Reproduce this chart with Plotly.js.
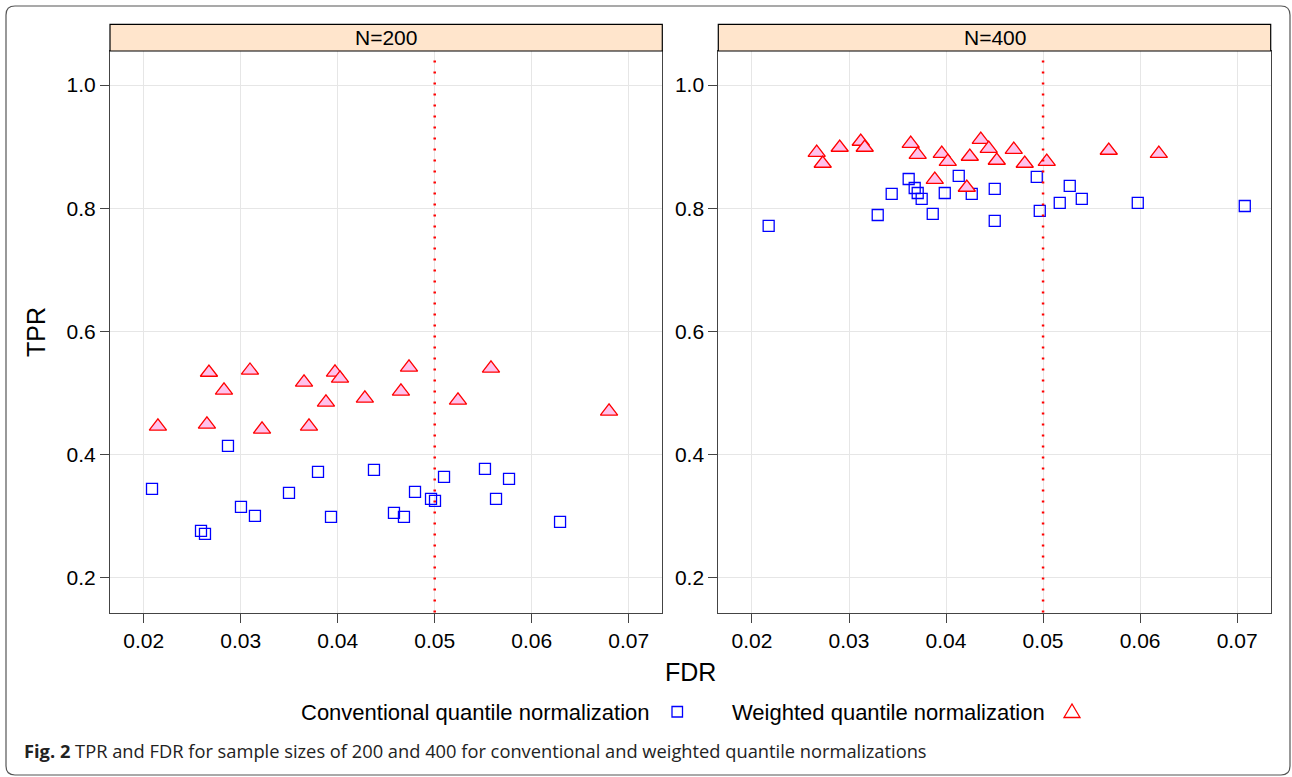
<!DOCTYPE html>
<html>
<head>
<meta charset="utf-8">
<script src="https://cdn.plot.ly/plotly-3.0.1.min.js"></script>
<style>html,body{margin:0;padding:0;background:#fff;}#chart{width:1292px;height:777px;}</style>
</head>
<body>
<div id="chart"></div>
<script>
// ---- Data ----
const panelTitles = ["N=200", "N=400"];
const seriesNames = ["Conventional quantile normalization", "Weighted quantile normalization"];
const xTicks = [0.02, 0.03, 0.04, 0.05, 0.06, 0.07];
const yTicks = [0.2, 0.4, 0.6, 0.8, 1.0];
const fdrThreshold = 0.05;

// N=200, conventional
const fdrConv200 = [0.02086, 0.02591, 0.02632, 0.02869, 0.03003, 0.03147, 0.03498, 0.03797, 0.03931, 0.04374,
                    0.04580, 0.04683, 0.04797, 0.04962, 0.05003, 0.05096, 0.05518, 0.05632, 0.05766, 0.06292];
const tprConv200 = [0.3447, 0.2766, 0.2717, 0.4144, 0.3155, 0.3009, 0.3382, 0.3723, 0.2993, 0.3755,
                    0.3058, 0.2993, 0.3398, 0.3285, 0.3252, 0.3642, 0.3771, 0.3285, 0.3609, 0.2912];
// N=200, weighted
const fdrWt200 = [0.02147, 0.02673, 0.02652, 0.02828, 0.03096, 0.03220, 0.03653, 0.03704, 0.03879, 0.03972,
                  0.04024, 0.04280, 0.04652, 0.04735, 0.05240, 0.05580, 0.06797];
const tprWt200 = [0.4460, 0.5335, 0.4492, 0.5044, 0.5368, 0.4411, 0.5174, 0.4460, 0.4849, 0.5336,
                  0.5239, 0.4914, 0.5028, 0.5417, 0.4882, 0.5401, 0.4703];
// N=400, conventional
const fdrConv400 = [0.02172, 0.03296, 0.03440, 0.03615, 0.03677, 0.03708, 0.03749, 0.03863, 0.03987, 0.04131,
                    0.04265, 0.04502, 0.04502, 0.04935, 0.04966, 0.05172, 0.05275, 0.05399, 0.05976, 0.07079];
const tprConv400 = [0.7713, 0.7891, 0.8232, 0.8475, 0.8329, 0.8248, 0.8151, 0.7908, 0.8248, 0.8524,
                    0.8232, 0.8313, 0.7794, 0.8508, 0.7956, 0.8086, 0.8362, 0.8151, 0.8086, 0.8037];
// N=400, weighted
const fdrWt400 = [0.02667, 0.02729, 0.02904, 0.03121, 0.03162, 0.03636, 0.03708, 0.03884, 0.03956, 0.04018,
                  0.04214, 0.04245, 0.04358, 0.04440, 0.04523, 0.04698, 0.04811, 0.05038, 0.05677, 0.06193];
const tprWt400 = [0.8904, 0.8726, 0.8986, 0.9083, 0.8986, 0.9050, 0.8872, 0.8466, 0.8888, 0.8758,
                  0.8337, 0.8840, 0.9115, 0.8969, 0.8775, 0.8953, 0.8726, 0.8758, 0.8937, 0.8888];

// ---- Styling ----
const W = 1292, H = 777;
const px = x => x / W;
const py = y => 1 - y / H;
const tickFont = {family: "Liberation Sans, Arial, sans-serif", size: 21, color: "#000"};
const blue = "#0000ff", red = "#ff0000", pink = "#ffc2ec";

const sqMarker = {symbol: "square-open", size: 11, color: blue, line: {color: blue, width: 1.3}};
const triMarker = {symbol: "triangle-up", size: 15, color: pink, opacity: 1, line: {color: red, width: 1.3}};

const traces = [
  {x: fdrConv200, y: tprConv200, xaxis: "x", yaxis: "y", mode: "markers", type: "scatter", name: seriesNames[0], marker: sqMarker},
  {x: fdrWt200, y: tprWt200, xaxis: "x", yaxis: "y", mode: "markers", type: "scatter", name: seriesNames[1], marker: triMarker},
  {x: fdrConv400, y: tprConv400, xaxis: "x2", yaxis: "y2", mode: "markers", type: "scatter", name: seriesNames[0], marker: sqMarker},
  {x: fdrWt400, y: tprWt400, xaxis: "x2", yaxis: "y2", mode: "markers", type: "scatter", name: seriesNames[1], marker: triMarker}
];

const xRange = [0.01653, 0.07346];
const yRange = [0.144, 1.0552];
const yDom = [py(612.5), py(51)];
const xDom1 = [px(110), px(662.3)];
const xDom2 = [px(718.3), px(1270.7)];

function xAxis(dom, anchor) {
  return {domain: dom, anchor: anchor, range: xRange, tickvals: xTicks, ticktext: xTicks.map(v => v.toFixed(2)),
          showgrid: true, gridcolor: "#e6e6e6", gridwidth: 1, zeroline: false,
          showline: true, mirror: true, linecolor: "#444", linewidth: 1,
          ticks: "outside", ticklen: 9, tickcolor: "#444", tickwidth: 1, tickfont: tickFont, fixedrange: true};
}
function yAxis(anchor) {
  return {domain: yDom, anchor: anchor, range: yRange, tickvals: yTicks, ticktext: yTicks.map(v => v.toFixed(1)),
          showgrid: true, gridcolor: "#e6e6e6", gridwidth: 1, zeroline: false,
          showline: true, mirror: true, linecolor: "#444", linewidth: 1,
          ticks: "outside", ticklen: 9, tickcolor: "#444", tickwidth: 1, tickfont: tickFont, fixedrange: true};
}

const shapes = [];
const annotations = [];

// outer rounded frame
const L = 6, T = 6, R = 1290, B = 775, rr = 9;
shapes.push({type: "path", xref: "paper", yref: "paper", layer: "below",
  path: `M${px(L+rr)},${py(T)} L${px(R-rr)},${py(T)} Q${px(R)},${py(T)} ${px(R)},${py(T+rr)} ` +
        `L${px(R)},${py(B-rr)} Q${px(R)},${py(B)} ${px(R-rr)},${py(B)} ` +
        `L${px(L+rr)},${py(B)} Q${px(L)},${py(B)} ${px(L)},${py(B-rr)} ` +
        `L${px(L)},${py(T+rr)} Q${px(L)},${py(T)} ${px(L+rr)},${py(T)} Z`,
  line: {color: "#555", width: 1.2}, fillcolor: "rgba(0,0,0,0)"});

// strips
[[xDom1, panelTitles[0]], [xDom2, panelTitles[1]]].forEach(([d, t]) => {
  shapes.push({type: "rect", xref: "paper", yref: "paper", x0: d[0], x1: d[1], y0: py(51), y1: py(24.3),
               fillcolor: "#ffe5cc", line: {color: "#000", width: 1.2}, layer: "above"});
  annotations.push({xref: "paper", yref: "paper", x: (d[0] + d[1]) / 2, y: py(37.5), text: t, showarrow: false,
                    xanchor: "center", yanchor: "middle", font: {family: "Liberation Sans, Arial, sans-serif", size: 21, color: "#000"}});
});

// FDR threshold lines
[["x", "y"], ["x2", "y2"]].forEach(([xa, ya]) => {
  shapes.push({type: "line", xref: xa, yref: ya + " domain", x0: fdrThreshold, x1: fdrThreshold, y0: 0, y1: 0.985,
               line: {color: red, width: 2.5, dash: "2px,9px"}, layer: "above"});
});

// axis titles
annotations.push({xref: "paper", yref: "paper", x: px(36), y: py(332), text: "TPR", textangle: -90, showarrow: false,
                  xanchor: "center", yanchor: "middle", font: {family: "Liberation Sans, Arial, sans-serif", size: 25, color: "#000"}});
annotations.push({xref: "paper", yref: "paper", x: px(690.5), y: py(672), text: "FDR", showarrow: false,
                  xanchor: "center", yanchor: "middle", font: {family: "Liberation Sans, Arial, sans-serif", size: 25, color: "#000"}});

// legend (text then key, as in the reference)
const legFont = {family: "Liberation Sans, Arial, sans-serif", size: 22, color: "#000"};
annotations.push({xref: "paper", yref: "paper", x: px(652), y: py(712.5), text: seriesNames[0], showarrow: false,
                  xanchor: "right", yanchor: "middle", font: legFont});
annotations.push({xref: "paper", yref: "paper", x: px(1046.5), y: py(712.5), text: seriesNames[1], showarrow: false,
                  xanchor: "right", yanchor: "middle", font: legFont});
shapes.push({type: "rect", xref: "paper", yref: "paper", x0: px(672), x1: px(682.5), y0: py(717), y1: py(706.5),
             line: {color: blue, width: 1.3}, fillcolor: "rgba(0,0,0,0)"});
shapes.push({type: "path", xref: "paper", yref: "paper",
             path: `M${px(1064)},${py(717.5)} L${px(1080)},${py(717.5)} L${px(1072)},${py(704)} Z`,
             line: {color: red, width: 1.3}, fillcolor: "rgba(0,0,0,0)"});

// caption
annotations.push({xref: "paper", yref: "paper", x: px(22), y: py(750), xanchor: "left", yanchor: "middle", showarrow: false,
                  text: "<b>Fig. 2</b> TPR and FDR for sample sizes of 200 and 400 for conventional and weighted quantile normalizations",
                  font: {family: "Open Sans, Noto Sans, sans-serif", size: 18.3, color: "#222"}});

const layout = {
  width: W, height: H,
  margin: {l: 0, r: 0, t: 0, b: 0, pad: 0},
  paper_bgcolor: "#fff", plot_bgcolor: "#fff",
  showlegend: false,
  xaxis: xAxis(xDom1, "y"),
  yaxis: yAxis("x"),
  xaxis2: xAxis(xDom2, "y2"),
  yaxis2: yAxis("x2"),
  shapes: shapes,
  annotations: annotations
};

Plotly.newPlot("chart", traces, layout, {displayModeBar: false, staticPlot: true});
</script>
</body>
</html>
